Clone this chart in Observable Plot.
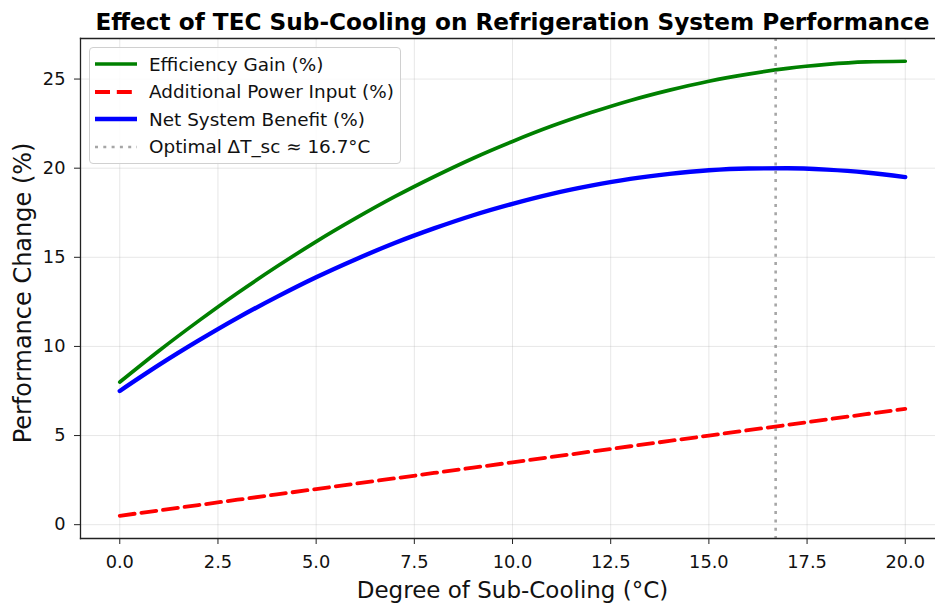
<!DOCTYPE html>
<html>
<head>
<meta charset="utf-8">
<script src="https://cdn.jsdelivr.net/npm/d3@7"></script>
<script src="https://cdn.jsdelivr.net/npm/@observablehq/plot@0.6"></script>
<style>
  html, body { margin: 0; padding: 0; background: #fff; }
  body { width: 935px; height: 605px; overflow: hidden; position: relative; font-family: "DejaVu Sans", sans-serif; }
  #legend {
    position: absolute; left: 89px; top: 47px; width: 312px; height: 117px;
    box-sizing: border-box; border: 1px solid #d0d0d0; border-radius: 4px;
    background: rgba(255,255,255,0.85); font-size: 18.4px; color: #111;
  }
  .row { position: absolute; left: 0; height: 28px; display: flex; align-items: center; white-space: nowrap; }
  .row svg { margin-left: 5px; margin-right: 12px; }
</style>
</head>
<body>
<div id="chart"></div>
<div id="legend"></div>
<script>
const subCooling = [0,1,2,3,4,5,6,7,8,9,10,11,12,13,14,15,16,17,18,19,20];
const efficiencyGain = [8.0,9.76,11.42,13.0,14.48,15.88,17.18,18.4,19.52,20.56,21.5,22.36,23.12,23.8,24.38,24.88,25.28,25.6,25.82,25.96,26.0];
const powerInput = [0.5,0.8,1.1,1.4,1.7,2.0,2.3,2.6,2.9,3.2,3.5,3.8,4.1,4.4,4.7,5.0,5.3,5.6,5.9,6.2,6.5];
const netBenefit = [7.5,8.96,10.32,11.6,12.78,13.88,14.88,15.8,16.62,17.36,18.0,18.56,19.02,19.4,19.68,19.88,19.98,20.0,19.92,19.76,19.5];
const optimalDT = 16.7;
const xTicks = [0,2.5,5,7.5,10,12.5,15,17.5,20];
const yTicks = [0,5,10,15,20,25];
const titleText = "Effect of TEC Sub-Cooling on Refrigeration System Performance";
const xLabel = "Degree of Sub-Cooling (°C)";
const yLabel = "Performance Change (%)";
const seriesNames = ["Efficiency Gain (%)", "Additional Power Input (%)", "Net System Benefit (%)", "Optimal ΔT_sc ≈ 16.7°C"];

const rows = subCooling.map((x, i) => ({x, eff: efficiencyGain[i], pow: powerInput[i], net: netBenefit[i]}));

const styles = [
  {stroke: "green", width: 3.7, dash: null},
  {stroke: "red", width: 3.8, dash: "15,6.8"},
  {stroke: "blue", width: 4.4, dash: null},
  {stroke: "gray", width: 2.6, dash: "3,5.3", opacity: 0.7}
];

const chart = Plot.plot({
  width: 935,
  height: 605,
  marginLeft: 80,
  marginRight: 0,
  marginTop: 38,
  marginBottom: 67,
  style: {fontFamily: "DejaVu Sans, sans-serif", fontSize: "17.8px", color: "#111", background: "#fff", overflow: "visible"},
  x: {domain: [-1, 20.77], label: null},
  y: {domain: [-0.775, 27.275], label: null},
  marks: [
    Plot.gridX(xTicks, {stroke: "#b0b0b0", strokeOpacity: 0.3, strokeWidth: 1}),
    Plot.gridY(yTicks, {stroke: "#b0b0b0", strokeOpacity: 0.3, strokeWidth: 1}),
    Plot.line(rows, {x: "x", y: "eff", stroke: styles[0].stroke, strokeWidth: styles[0].width, curve: "monotone-x"}),
    Plot.line(rows, {x: "x", y: "pow", stroke: styles[1].stroke, strokeWidth: styles[1].width, strokeDasharray: styles[1].dash}),
    Plot.line(rows, {x: "x", y: "net", stroke: styles[2].stroke, strokeWidth: styles[2].width, curve: "monotone-x"}),
    Plot.ruleX([optimalDT], {stroke: styles[3].stroke, strokeOpacity: styles[3].opacity, strokeWidth: styles[3].width, strokeDasharray: styles[3].dash}),
    Plot.axisX({ticks: xTicks, tickFormat: d3.format(".1f"), tickSize: 6, tickPadding: 11, stroke: "#222", fontSize: 17.8, label: null}),
    Plot.axisY({ticks: yTicks, tickFormat: d => String(d), tickSize: 6, tickPadding: 9, stroke: "#222", fontSize: 17.8, label: null}),
    Plot.frame({anchor: "left", stroke: "#222", strokeWidth: 1.3}),
    Plot.frame({anchor: "bottom", stroke: "#222", strokeWidth: 1.3}),
    Plot.frame({anchor: "top", stroke: "#222", strokeWidth: 1.3}),
    Plot.text([titleText], {x: 10, frameAnchor: "top", lineAnchor: "bottom", dy: -9, text: d => d, fontSize: 23.2, fontWeight: "bold", fill: "#000", textAnchor: "middle"}),
    Plot.text([xLabel], {x: 10, frameAnchor: "bottom", lineAnchor: "bottom", dy: 59, text: d => d, fontSize: 23, fill: "#111", textAnchor: "middle"}),
    Plot.text([yLabel], {y: 13, frameAnchor: "left", dx: -57, rotate: -90, lineAnchor: "middle", textAnchor: "middle", text: d => d, fontSize: 24, fill: "#111"})
  ]
});
document.getElementById("chart").appendChild(chart);

// legend
const legend = document.getElementById("legend");
seriesNames.forEach((name, i) => {
  const row = document.createElement("div");
  row.className = "row";
  row.style.top = (2 + i * 27.6) + "px";
  const s = styles[i];
  row.innerHTML = `<svg width="42" height="10"><line x1="0" x2="42" y1="5" y2="5" stroke="${s.stroke}" stroke-width="${s.width}" ${s.dash ? `stroke-dasharray="${s.dash}"` : ""} ${s.opacity ? `stroke-opacity="${s.opacity}"` : ""}/></svg><span>${name}</span>`;
  legend.appendChild(row);
});
</script>
</body>
</html>
